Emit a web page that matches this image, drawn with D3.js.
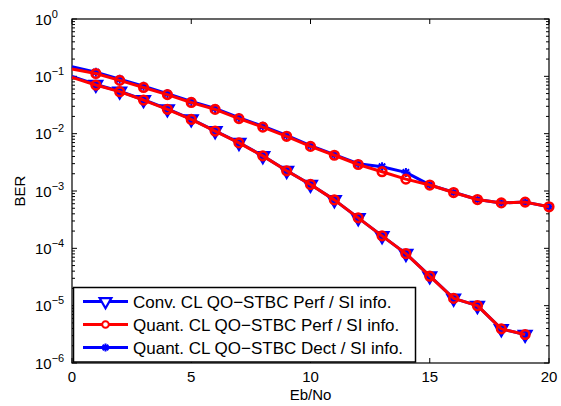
<!DOCTYPE html>
<html>
<head>
<meta charset="utf-8">
<script src="https://cdn.jsdelivr.net/npm/d3@7"></script>
<style>
  body { margin: 0; background: #fff; }
  svg { font-family: "Liberation Sans", Arial, Helvetica, sans-serif; }
</style>
</head>
<body>
<svg id="chart" width="561" height="406"></svg>
<script>
// Eb/No points (dB)
const ebno = d3.range(0, 21);

// lower pair of curves (stop at 19 dB)
const convPerf = [0.10, 0.072, 0.055, 0.039, 0.027, 0.018, 0.0112, 0.0070, 0.0041, 0.00227,
  0.0013, 0.00070, 0.00034, 0.000165, 8.1e-5, 3.3e-5, 1.34e-5, 1.0e-5, 3.94e-6, 3.14e-6];
const quantPerf = [0.096, 0.0705, 0.054, 0.0386, 0.0266, 0.0177, 0.0111, 0.0069, 0.0041, 0.00225,
  0.0013, 0.00070, 0.00034, 0.000165, 8.1e-5, 3.27e-5, 1.34e-5, 1.0e-5, 3.94e-6, 3.14e-6];

// upper pair of curves
const quantDect = [0.147, 0.118, 0.089, 0.067, 0.050, 0.0365, 0.0275, 0.019, 0.0135, 0.0093,
  0.0062, 0.0043, 0.0030, 0.00265, 0.00211, 0.00128, 0.00095, 0.00071, 0.00062, 0.00064, 0.00053];
const quantPerfUpper = [0.134, 0.112, 0.085, 0.064, 0.048, 0.035, 0.0265, 0.0183, 0.013, 0.0090,
  0.0060, 0.0042, 0.0029, 0.00217, 0.00161, 0.00127, 0.00094, 0.00071, 0.00062, 0.00064, 0.00053];

const xTicks = [0, 5, 10, 15, 20];
const yExponents = [0, -1, -2, -3, -4, -5, -6];
const legendLabels = [
  "Conv. CL QO\u2212STBC Perf / SI info.",
  "Quant. CL QO\u2212STBC Perf / SI info.",
  "Quant. CL QO\u2212STBC Dect / SI info."
];

const margin = { top: 19, right: 12, bottom: 43, left: 72 };
const svg = d3.select("#chart");
const W = +svg.attr("width"), H = +svg.attr("height");
const width = W - margin.left - margin.right;
const height = H - margin.top - margin.bottom;

const x = d3.scaleLinear().domain([0, 20]).range([margin.left, margin.left + width]);
const y = d3.scaleLog().domain([1e-6, 1]).range([margin.top + height, margin.top]);

const BLUE = "#0000ff", RED = "#ff0000";

// ticks (inward) and box
const g = svg.append("g").attr("stroke", "#000").attr("stroke-width", 1);
xTicks.forEach((t) => {
  g.append("line").attr("x1", x(t)).attr("x2", x(t)).attr("y1", y(1e-6)).attr("y2", y(1e-6) - 5);
  g.append("line").attr("x1", x(t)).attr("x2", x(t)).attr("y1", y(1)).attr("y2", y(1) + 5);
});
yExponents.forEach((e) => {
  const v = Math.pow(10, e);
  g.append("line").attr("x1", x(0)).attr("x2", x(0) + 5).attr("y1", y(v)).attr("y2", y(v));
  g.append("line").attr("x1", x(20)).attr("x2", x(20) - 5).attr("y1", y(v)).attr("y2", y(v));
  if (e < 0) {
    for (let k = 2; k <= 9; k++) {
      const mv = v * k;
      g.append("line").attr("x1", x(0)).attr("x2", x(0) + 3).attr("y1", y(mv)).attr("y2", y(mv));
      g.append("line").attr("x1", x(20)).attr("x2", x(20) - 3).attr("y1", y(mv)).attr("y2", y(mv));
    }
  }
});
svg.append("rect")
  .attr("x", margin.left).attr("y", margin.top)
  .attr("width", width).attr("height", height)
  .attr("fill", "none").attr("stroke", "#000").attr("stroke-width", 1.2);

// tick labels
svg.append("g").selectAll("text").data(xTicks).join("text")
  .attr("x", (d) => x(d)).attr("y", y(1e-6) + 19)
  .attr("text-anchor", "middle").attr("font-size", 15)
  .text((d) => d);

const yl = svg.append("g").selectAll("text").data(yExponents).join("text")
  .attr("x", 35).attr("y", (d) => y(Math.pow(10, d)) + 5.5)
  .attr("font-size", 15);
yl.append("tspan").text("10");
yl.append("tspan").attr("font-size", 11).attr("dy", -7)
  .text((d) => (d < 0 ? "\u2212" + -d : d));

svg.append("text").attr("x", x(10)).attr("y", 400)
  .attr("text-anchor", "middle").attr("font-size", 15).text("Eb/No");
svg.append("text")
  .attr("transform", `translate(25,${margin.top + height / 2}) rotate(-90)`)
  .attr("text-anchor", "middle").attr("font-size", 15).text("BER");

// curves
const line = d3.line().x((d) => x(d[0])).y((d) => y(d[1]));
const pairs = (vals) => vals.map((v, i) => [ebno[i], v]);

const starPath = (r) => {
  const d = r * Math.SQRT1_2;
  return `M${-r},0L${r},0M0,${-r}L0,${r}M${-d},${-d}L${d},${d}M${-d},${d}L${d},${-d}`;
};
const triPath = d3.symbol(d3.symbolTriangle, 85)();

function drawSeries(vals, color, marker) {
  const data = pairs(vals);
  const s = svg.append("g");
  s.append("path").datum(data).attr("d", line)
    .attr("fill", "none").attr("stroke", color).attr("stroke-width", 3)
    .attr("stroke-linejoin", "round");
  // no marker is shown at the left axis (0 dB) in the original
  const m = s.selectAll(".mk").data(data.filter((d) => d[0] > 0)).join("g").attr("class", "mk")
    .attr("transform", (d) => `translate(${x(d[0])},${y(d[1])})`);
  if (marker === "tri") {
    m.append("path").attr("d", triPath).attr("transform", "rotate(180)")
      .attr("fill", color).attr("stroke", color).attr("stroke-width", 1.5);
  } else if (marker === "circle") {
    m.append("circle").attr("r", 4.3)
      .attr("fill", "none").attr("stroke", color).attr("stroke-width", 2.6);
  } else {
    m.append("path").attr("d", starPath(4.5))
      .attr("stroke", color).attr("stroke-width", 2);
  }
}

drawSeries(convPerf, BLUE, "tri");
drawSeries(quantDect, BLUE, "star");
drawSeries(quantPerf, RED, "circle");
drawSeries(quantPerfUpper, RED, "circle");

// legend
const lg = svg.append("g");
lg.append("rect").attr("x", 73.5).attr("y", 287.5).attr("width", 342).attr("height", 74.5)
  .attr("fill", "#fff").attr("stroke", "#000").attr("stroke-width", 1.5);
const legendStyles = [
  { color: BLUE, marker: "tri" },
  { color: RED, marker: "circle" },
  { color: BLUE, marker: "star" }
];
legendLabels.forEach((label, i) => {
  const cy = 301.5 + i * 23;
  const st = legendStyles[i];
  lg.append("line").attr("x1", 83).attr("x2", 128).attr("y1", cy).attr("y2", cy)
    .attr("stroke", st.color).attr("stroke-width", 3);
  const mk = lg.append("g").attr("transform", `translate(105.5,${cy})`);
  if (st.marker === "tri") {
    mk.append("path").attr("d", d3.symbol(d3.symbolTriangle, 60)()).attr("transform", "rotate(180)")
      .attr("fill", "#fff").attr("stroke", st.color).attr("stroke-width", 2.2);
  } else if (st.marker === "circle") {
    mk.append("circle").attr("r", 3.3).attr("fill", "#fff")
      .attr("stroke", st.color).attr("stroke-width", 2);
  } else {
    mk.append("path").attr("d", starPath(4)).attr("stroke", st.color).attr("stroke-width", 2);
  }
  lg.append("text").attr("x", 133).attr("y", cy + 6).attr("font-size", 17).text(label);
});
</script>
</body>
</html>
